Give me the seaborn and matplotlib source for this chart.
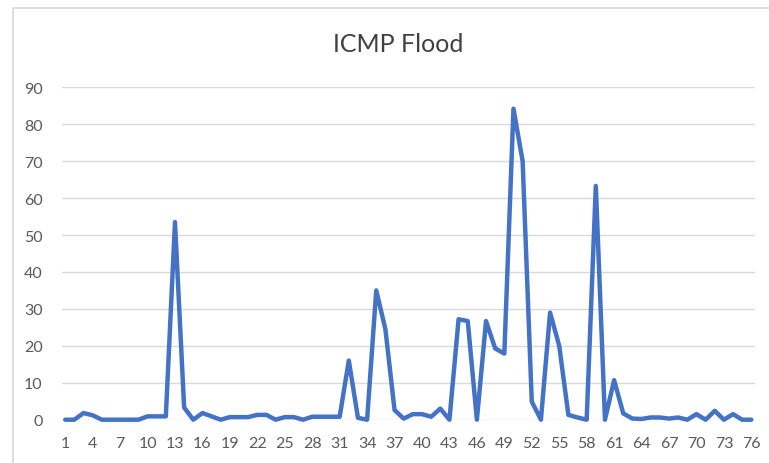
import matplotlib
matplotlib.use("Agg")
import matplotlib.pyplot as plt
import seaborn as sns
import pandas as pd
from matplotlib.patches import Rectangle

title = "ICMP Flood"
x_values = list(range(1, 77))
flood = [
    0, 0, 1.8, 1.2, 0, 0, 0, 0, 0, 0.9,
    0.9, 0.9, 53.5, 3.3, 0, 1.8, 0.9, 0, 0.7, 0.7,
    0.7, 1.3, 1.3, 0, 0.7, 0.7, 0, 0.8, 0.8, 0.8,
    0.8, 16, 0.5, 0, 35, 24.5, 2.6, 0.3, 1.5, 1.5,
    0.8, 3, 0, 27.2, 26.7, 0, 26.7, 19.3, 17.9, 84.2,
    70, 4.9, 0, 29, 20, 1.3, 0.6, 0, 63.3, 0,
    10.7, 1.7, 0.3, 0.2, 0.6, 0.6, 0.3, 0.6, 0, 1.5,
    0, 2.4, 0, 1.5, 0, 0,
]
x_ticks = list(range(1, 77, 3))
y_ticks = [0, 10, 20, 30, 40, 50, 60, 70, 80, 90]

df = pd.DataFrame({"x": x_values, "value": flood})

sns.set_theme(style="white")
plt.rcParams["font.family"] = ["Lato", "DejaVu Sans"]

fig = plt.figure(figsize=(7.69, 4.64), dpi=100)
ax = fig.add_axes([62 / 769, 1 - 420.7 / 464, (755 - 62) / 769, (420.7 - 88.3) / 464])

# chart border (top and left visible)
fig.patches.append(Rectangle((13 / 769, -0.05), 1.2, 1 - 9 / 464 + 0.05,
                             transform=fig.transFigure, fill=False,
                             edgecolor="#D9D9D9", linewidth=1.2))

for yv in y_ticks:
    ax.axhline(yv, color="#D9D9D9", linewidth=1.0, zorder=0)

sns.lineplot(data=df, x="x", y="value", ax=ax, color="#4472C4",
             linewidth=3.2, zorder=3, clip_on=False)

ax.set_xlim(0.65, 76.4)
ax.set_ylim(0, 90)
ax.set_xticks(x_ticks)
ax.set_xticklabels([str(t) for t in x_ticks])
ax.set_yticks(y_ticks)
ax.set_yticklabels([str(t) for t in y_ticks])
ax.tick_params(axis="both", length=0, labelsize=11.5, colors="#595959")
ax.tick_params(axis="y", pad=14)
ax.tick_params(axis="x", pad=12)
ax.set_xlabel("")
ax.set_ylabel("")
for s in ax.spines.values():
    s.set_visible(False)

fig.text(398 / 769, 1 - 45 / 464, title, ha="center", va="center",
         fontsize=18, color="#404040")

fig.savefig("out.png", dpi=100)
